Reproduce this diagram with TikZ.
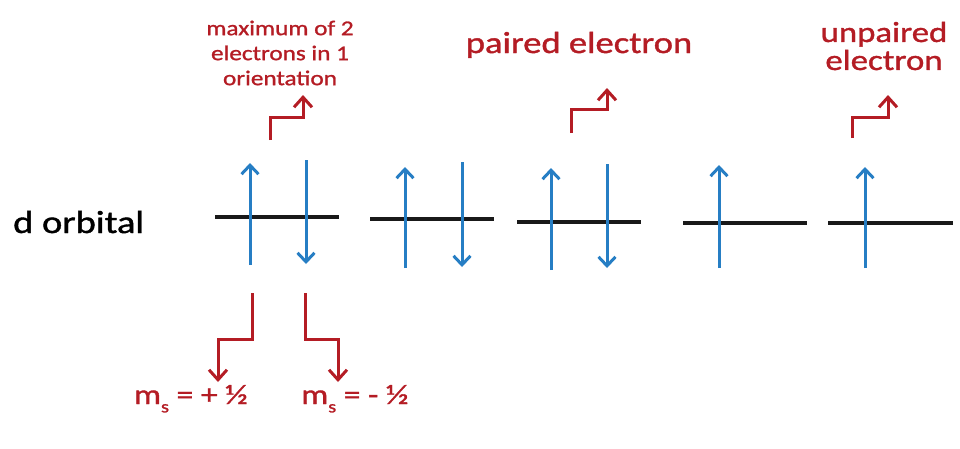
\documentclass[tikz,border=0pt]{standalone}
\usepackage{fontspec}
\setmainfont{Carlito}
\newfontfamily\lbl[FakeStretch=1.2,FakeBold=1.2]{Carlito}
\usetikzlibrary{arrows.meta}
\definecolor{ered}{RGB}{180,28,36}
\definecolor{eblue}{RGB}{38,126,196}
\newcommand{\msub}{\raisebox{-0.3em}{\fontsize{17}{17}\selectfont s}}
\begin{document}
\begin{tikzpicture}[x=1pt,y=-1pt,
  level/.style={line width=3.2pt, black!90},
  spin/.style={line width=3pt, eblue, -{Straight Barb[length=9pt,width=17pt]}},
  pointer/.style={line width=3pt, ered, -{Straight Barb[length=10pt,width=18pt]}},
  redlabel/.style={text=ered, inner sep=0pt, align=center},
]
\useasboundingbox (0,0) rectangle (960,448);

% label
\node[inner sep=0pt, anchor=west, font=\lbl\fontsize{32}{40}\selectfont] (dorb) at (13,222) {d orbital};

% orbital levels
\coordinate (l1a) at (215,217); \coordinate (l1b) at (339,217);
\coordinate (l2a) at (370,219); \coordinate (l2b) at (494,219);
\coordinate (l3a) at (517,222); \coordinate (l3b) at (641,222);
\coordinate (l4a) at (683,223); \coordinate (l4b) at (807,223);
\coordinate (l5a) at (828,223); \coordinate (l5b) at (953,223);
\foreach \i in {1,...,5} { \draw[level] (l\i a) -- (l\i b); }

% spins
\coordinate (u1s) at (250,265); \coordinate (u1e) at (250,163);
\coordinate (d1s) at (306,160); \coordinate (d1e) at (306,264);
\coordinate (u2s) at (405,268); \coordinate (u2e) at (405,167);
\coordinate (d2s) at (462,162); \coordinate (d2e) at (462,267);
\coordinate (u3s) at (551,270); \coordinate (u3e) at (551,168);
\coordinate (d3s) at (607,164); \coordinate (d3e) at (607,268);
\coordinate (u4s) at (719,268); \coordinate (u4e) at (719,165);
\coordinate (u5s) at (865,268); \coordinate (u5e) at (865,167);
\draw[spin] (u1s) -- (u1e);
\draw[spin] (d1s) -- (d1e);
\draw[spin] (u2s) -- (u2e);
\draw[spin] (d2s) -- (d2e);
\draw[spin] (u3s) -- (u3e);
\draw[spin] (d3s) -- (d3e);
\draw[spin] (u4s) -- (u4e);
\draw[spin] (u5s) -- (u5e);

% top labels
\node[redlabel, font=\lbl\fontsize{21}{25}\selectfont] (maxlbl) at (280,53) {maximum of 2\\electrons in 1\\orientation};
\node[redlabel, anchor=base, font=\lbl\fontsize{30.5}{37}\selectfont] (pairlbl) at (579,53) {paired electron};
\node[redlabel, font=\lbl\fontsize{29}{28}\selectfont] (unplbl) at (884,46) {unpaired\\electron};

% bottom labels
\node[redlabel, anchor=base, font=\lbl\fontsize{28}{34}\selectfont] (msplus) at (191,404) {m\msub{} = + ½};
\node[redlabel, anchor=base, font=\lbl\fontsize{28}{34}\selectfont] (msminus) at (355,404) {m\msub{} = - ½};

% red pointers (top)
\coordinate (a1s) at (270,140); \coordinate (a1e) at (303,95);
\coordinate (a2s) at (571,133); \coordinate (a2e) at (607,88);
\coordinate (a3s) at (852,138); \coordinate (a3e) at (888,95);
\draw[pointer] (a1s) -- (270,117) -- (303,117) -- (a1e);
\draw[pointer] (a2s) -- (571,109) -- (607,109) -- (a2e);
\draw[pointer] (a3s) -- (852,117) -- (888,117) -- (a3e);

% red pointers (bottom)
\coordinate (b1s) at (252,293); \coordinate (b1e) at (218,382);
\coordinate (b2s) at (305,293); \coordinate (b2e) at (338,382);
\draw[pointer] (b1s) -- (252,339) -- (218,339) -- (b1e);
\draw[pointer] (b2s) -- (305,339) -- (338,339) -- (b2e);
\end{tikzpicture}
\end{document}
